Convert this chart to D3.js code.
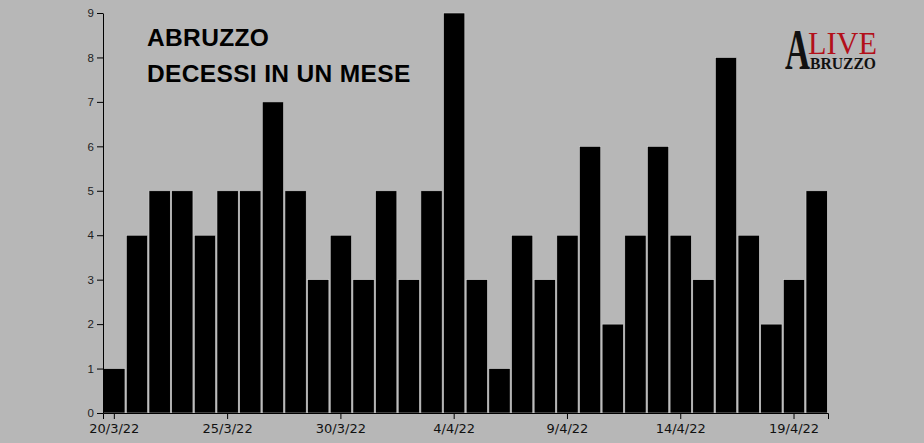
<!DOCTYPE html>
<html>
<head>
<meta charset="utf-8">
<script src="https://cdn.jsdelivr.net/npm/d3@7"></script>
<style>
  html, body { margin: 0; padding: 0; background: #b7b7b7; }
  svg { display: block; }
</style>
</head>
<body>
<div id="chart"></div>
<script>
// daily deaths, 20/3/22 -> 20/4/22
const days = [
  "20/3/22", "21/3/22", "22/3/22", "23/3/22", "24/3/22", "25/3/22", "26/3/22", "27/3/22",
  "28/3/22", "29/3/22", "30/3/22", "31/3/22", "1/4/22", "2/4/22", "3/4/22", "4/4/22",
  "5/4/22", "6/4/22", "7/4/22", "8/4/22", "9/4/22", "10/4/22", "11/4/22", "12/4/22",
  "13/4/22", "14/4/22", "15/4/22", "16/4/22", "17/4/22", "18/4/22", "19/4/22", "20/4/22"
];
const deaths = [1, 4, 5, 5, 4, 5, 5, 7, 5, 3, 4, 3, 5, 3, 5, 9, 3, 1, 4, 3, 4, 6, 2, 4, 6, 4, 3, 8, 4, 2, 3, 5];
const xTicks = ["20/3/22", "25/3/22", "30/3/22", "4/4/22", "9/4/22", "14/4/22", "19/4/22"];
const yTicks = [0, 1, 2, 3, 4, 5, 6, 7, 8, 9];
const titleLines = ["ABRUZZO", "DECESSI IN UN MESE"];

const width = 924, height = 443;
const margin = {top: 13, right: 96, bottom: 30, left: 103};

const svg = d3.select("#chart")
    .append("svg")
    .attr("width", width)
    .attr("height", height);

svg.append("rect")
    .attr("width", width)
    .attr("height", height)
    .attr("fill", "#b7b7b7");

const x = d3.scaleBand()
    .domain(days)
    .range([margin.left, width - margin.right])
    .paddingInner(0.06)
    .paddingOuter(0.03);

const y = d3.scaleLinear()
    .domain([0, 9])
    .range([height - margin.bottom, margin.top]);

// bars
svg.append("g")
    .selectAll("rect")
    .data(deaths)
    .enter()
    .append("rect")
    .attr("x", (d, i) => x(days[i]))
    .attr("y", d => y(d))
    .attr("width", x.bandwidth())
    .attr("height", d => y(0) - y(d))
    .attr("fill", "#000")
    .attr("stroke", "#d4d4d4")
    .attr("stroke-width", 0.6);

// x axis
const xAxis = svg.append("g")
    .attr("transform", "translate(0," + y(0) + ")")
    .call(d3.axisBottom(x).tickValues(xTicks).tickSize(6).tickSizeOuter(6));
xAxis.select(".domain").attr("stroke", "#000");
xAxis.selectAll(".tick line").attr("stroke", "#000");
xAxis.selectAll("text")
    .attr("font-family", "DejaVu Sans, sans-serif")
    .attr("font-size", 13)
    .attr("fill", "#111")
    .attr("dy", "0.85em");

// y axis
const yAxis = svg.append("g")
    .attr("transform", "translate(" + margin.left + ",0)")
    .call(d3.axisLeft(y).tickValues(yTicks).tickSize(6).tickSizeOuter(0));
yAxis.select(".domain").attr("stroke", "#000");
yAxis.selectAll(".tick line").attr("stroke", "#000");
yAxis.selectAll("text")
    .attr("font-family", "Liberation Sans, Arial, sans-serif")
    .attr("font-size", 11.5)
    .attr("fill", "#222");

// title
svg.append("g")
    .selectAll("text")
    .data(titleLines)
    .enter()
    .append("text")
    .attr("x", 147)
    .attr("y", (d, i) => 46 + i * 35.5)
    .attr("font-family", "Liberation Sans, Arial, sans-serif")
    .attr("font-weight", "bold")
    .attr("font-size", 24.5)
    .attr("letter-spacing", 0.35)
    .attr("fill", "#000")
    .text(d => d);

// logo: one text, three pieces
const logo = svg.append("text")
    .attr("font-family", "Liberation Serif, Times New Roman, serif");
logo.append("tspan")
    .attr("x", 785)
    .attr("y", 69)
    .attr("font-size", 56)
    .attr("font-weight", "bold")
    .attr("textLength", 25)
    .attr("lengthAdjust", "spacingAndGlyphs")
    .attr("fill", "#111")
    .text("A");
logo.append("tspan")
    .attr("x", 808)
    .attr("y", 54)
    .attr("font-size", 31)
    .attr("textLength", 69)
    .attr("lengthAdjust", "spacingAndGlyphs")
    .attr("fill", "#b3101a")
    .text("LIVE");
logo.append("tspan")
    .attr("x", 810)
    .attr("y", 69)
    .attr("font-size", 17.5)
    .attr("font-weight", "bold")
    .attr("textLength", 66)
    .attr("lengthAdjust", "spacingAndGlyphs")
    .attr("fill", "#111")
    .text("BRUZZO");
</script>
</body>
</html>
